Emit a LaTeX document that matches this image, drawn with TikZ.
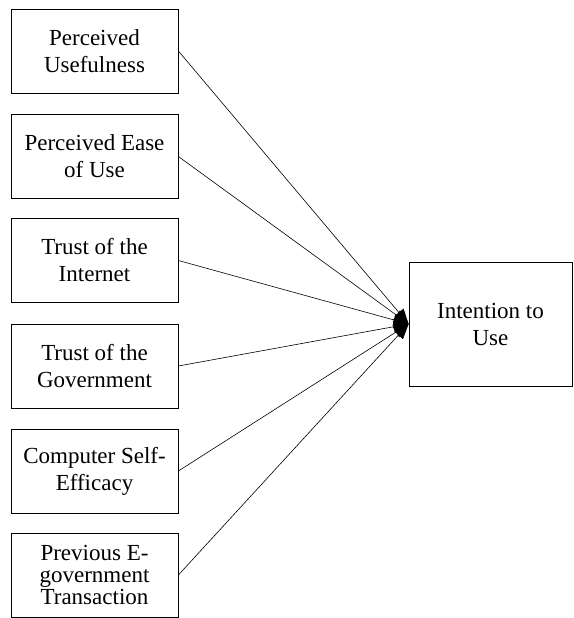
\documentclass[tikz,border=0pt]{standalone}
\usepackage{fontspec}
\setmainfont{Liberation Serif}
\usetikzlibrary{arrows.meta}

\begin{document}
\begin{tikzpicture}[
    x=1pt, y=-1pt,
    every node/.style={font=\fontsize{23}{27}\selectfont},
    factor/.style={draw, line width=0.8pt, minimum width=167pt, minimum height=84pt,
        align=center, inner sep=0pt},
    >={Triangle[length=15pt,width=12pt]}
]
\useasboundingbox (0,0) rectangle (573,618);

% Parameters
\def\xleft{94.5}   % centre of the left column
\def\xright{490.5} % centre of the outcome box

% === Factor boxes (left column) ===
\node[factor] (pu)   at (\xleft,51)    {Perceived\\Usefulness};
\node[factor] (peou) at (\xleft,156.5) {Perceived Ease\\of Use};
\node[factor] (ti)   at (\xleft,260.5) {Trust of the\\Internet};
\node[factor] (tg)   at (\xleft,366)   {Trust of the\\Government};
\node[factor] (cse)  at (\xleft,471)   {Computer Self-\\Efficacy};
\node[factor, font=\fontsize{23}{22}\selectfont] (pet) at (\xleft,575)
    {Previous E-\\government\\Transaction};

% === Outcome box ===
\node[factor, minimum width=163pt, minimum height=124pt] (itu) at (\xright,324)
    {Intention to\\Use};

% === Paths into the outcome ===
\foreach \src in {pu,peou,ti,tg,cse,pet} {
    \draw[->, line width=0.6pt] (\src.east) -- (itu.west);
}

\end{tikzpicture}
\end{document}
